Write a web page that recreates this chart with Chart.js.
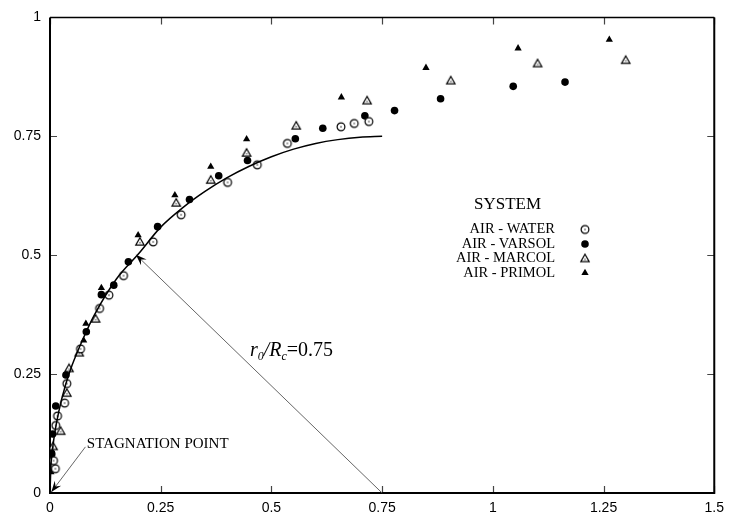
<!DOCTYPE html>
<html>
<head>
<meta charset="utf-8">
<script src="https://cdn.jsdelivr.net/npm/chart.js@4/dist/chart.umd.min.js"></script>
<style>
html,body{margin:0;padding:0;background:#fff;}
#wrap{position:relative;width:731px;height:520px;}
</style>
</head>
<body>
<div id="wrap"><canvas id="c" width="731" height="520"></canvas></div>
<script>
// ---- data ----
const xTickValues = [0, 0.25, 0.5, 0.75, 1, 1.25, 1.5];
const xTickLabels = ['0', '0.25', '0.5', '0.75', '1', '1.25', '1.5'];
const yTickValues = [0, 0.25, 0.5, 0.75, 1];
const yTickLabels = ['0', '0.25', '0.5', '0.75', '1'];

const seriesNames = ['AIR - WATER', 'AIR - VARSOL', 'AIR - MARCOL', 'AIR - PRIMOL'];

const waterX = [0.012, 0.008, 0.013, 0.017, 0.033, 0.038, 0.069, 0.112, 0.133, 0.166, 0.233, 0.296, 0.401, 0.468, 0.536, 0.657, 0.687, 0.720];
const waterY = [0.051, 0.068, 0.142, 0.162, 0.189, 0.230, 0.303, 0.388, 0.416, 0.457, 0.528, 0.585, 0.653, 0.690, 0.735, 0.770, 0.777, 0.781];

const varsolX = [0.004, 0.006, 0.013, 0.036, 0.082, 0.116, 0.144, 0.177, 0.243, 0.315, 0.381, 0.446, 0.554, 0.616, 0.711, 0.778, 0.882, 1.046, 1.163];
const varsolY = [0.082, 0.124, 0.183, 0.248, 0.339, 0.417, 0.437, 0.486, 0.560, 0.617, 0.667, 0.699, 0.745, 0.767, 0.793, 0.804, 0.829, 0.855, 0.864];

const marcolX = [0.007, 0.024, 0.038, 0.043, 0.066, 0.103, 0.203, 0.285, 0.363, 0.444, 0.556, 0.716, 0.905, 1.101, 1.300];
const marcolY = [0.098, 0.130, 0.210, 0.262, 0.295, 0.366, 0.528, 0.610, 0.658, 0.715, 0.772, 0.825, 0.867, 0.903, 0.910];

const primolX = [0.002, 0.004, 0.076, 0.081, 0.116, 0.199, 0.282, 0.363, 0.444, 0.658, 0.849, 1.057, 1.263];
const primolY = [0.044, 0.090, 0.321, 0.356, 0.431, 0.542, 0.626, 0.686, 0.744, 0.832, 0.894, 0.935, 0.953];

// theoretical curve r0/Rc = 0.75
const curveX = [0, 0.002, 0.005, 0.01, 0.02, 0.035, 0.05, 0.075, 0.1, 0.15, 0.2, 0.25, 0.3, 0.35, 0.4, 0.45, 0.5, 0.55, 0.6, 0.65, 0.7, 0.75];
const curveY = [0, 0.055, 0.086, 0.122, 0.172, 0.227, 0.269, 0.325, 0.374, 0.450, 0.503, 0.559, 0.600, 0.634, 0.663, 0.687, 0.707, 0.723, 0.735, 0.743, 0.748, 0.750];

// annotations (data units)
const radiusArrow = {from: [0.75, 0], to: [0.194, 0.501]};
const stagArrow = {from: [0.080, 0.097], to: [0.003, 0.002]};
const stagLabel = {text: 'STAGNATION POINT', at: [0.081, 0.102]};
const ratioLabel = {at: [0.4515, 0.288]};
const legendTitle = 'SYSTEM';

// ---- marker images ----
function makeMarker(kind) {
  const c = document.createElement('canvas');
  c.width = 12; c.height = 12;
  const g = c.getContext('2d');
  g.strokeStyle = '#000'; g.fillStyle = '#000'; g.lineWidth = 1.2;
  if (kind === 'ocircle') {
    g.fillStyle = '#fff';
    g.beginPath(); g.arc(6, 6, 3.9, 0, Math.PI * 2); g.fill(); g.stroke();
    g.fillStyle = '#000';
    g.fillRect(5.4, 5.4, 1.2, 1.2);
  } else if (kind === 'otri') {
    g.fillStyle = '#fff';
    g.beginPath(); g.moveTo(6, 1.8); g.lineTo(10.2, 9.2); g.lineTo(1.8, 9.2); g.closePath(); g.fill(); g.stroke();
    g.fillStyle = '#333';
    g.fillRect(5.4, 6.2, 1.2, 1.2);
  }
  return c;
}
const openCircle = makeMarker('ocircle');
const openTri = makeMarker('otri');

function pts(xs, ys) { return xs.map((x, i) => ({x: x, y: ys[i]})); }

const markerStyles = [
  {pointStyle: openCircle, radius: 5},
  {pointStyle: 'circle', radius: 3.8},
  {pointStyle: openTri, radius: 5},
  {pointStyle: 'triangle', radius: 4.2}
];

function scatterSet(name, xs, ys, m) {
  return {
    type: 'scatter', label: name, data: pts(xs, ys),
    pointStyle: m.pointStyle, pointRadius: m.radius, pointHoverRadius: m.radius,
    backgroundColor: '#000', borderColor: '#000', borderWidth: 0, showLine: false
  };
}

function drawArrow(ctx, x1, y1, x2, y2) {
  ctx.save();
  ctx.strokeStyle = '#555'; ctx.lineWidth = 0.9;
  ctx.beginPath(); ctx.moveTo(x1, y1); ctx.lineTo(x2, y2); ctx.stroke();
  const a = Math.atan2(y2 - y1, x2 - x1);
  const L = 11, W = 4, N = 7;
  const ca = Math.cos(a), sa = Math.sin(a);
  ctx.fillStyle = '#000';
  ctx.beginPath();
  ctx.moveTo(x2, y2);
  ctx.lineTo(x2 - L * ca + W * sa, y2 - L * sa - W * ca);
  ctx.lineTo(x2 - N * ca, y2 - N * sa);
  ctx.lineTo(x2 - L * ca - W * sa, y2 - L * sa + W * ca);
  ctx.closePath(); ctx.fill();
  ctx.restore();
}

const framePlugin = {
  id: 'frame',
  beforeDatasetsDraw(chart) {
    const {ctx, chartArea: a, scales} = chart;
    ctx.save();
    ctx.strokeStyle = '#444'; ctx.lineWidth = 1.2;
    xTickValues.forEach(v => {
      const px = Math.round(scales.x.getPixelForValue(v)) + 0.5;
      ctx.beginPath(); ctx.moveTo(px, a.bottom); ctx.lineTo(px, a.bottom - 7);
      ctx.moveTo(px, a.top); ctx.lineTo(px, a.top + 7); ctx.stroke();
    });
    yTickValues.forEach(v => {
      const py = Math.round(scales.y.getPixelForValue(v)) + 0.5;
      ctx.beginPath(); ctx.moveTo(a.left, py); ctx.lineTo(a.left + 7, py);
      ctx.moveTo(a.right, py); ctx.lineTo(a.right - 7, py); ctx.stroke();
    });
    ctx.strokeStyle = '#000';
    ctx.lineWidth = 2;
    ctx.beginPath();
    ctx.moveTo(a.left, a.top); ctx.lineTo(a.left, a.bottom); ctx.lineTo(a.right, a.bottom); ctx.lineTo(a.right, a.top);
    ctx.stroke();
    ctx.lineWidth = 1.5;
    ctx.beginPath(); ctx.moveTo(a.left, a.top); ctx.lineTo(a.right, a.top); ctx.stroke();
    ctx.restore();
  },
  afterDatasetsDraw(chart) {
    const {ctx, scales} = chart;
    const X = v => scales.x.getPixelForValue(v), Y = v => scales.y.getPixelForValue(v);
    drawArrow(ctx, X(radiusArrow.from[0]), Y(radiusArrow.from[1]), X(radiusArrow.to[0]), Y(radiusArrow.to[1]));
    drawArrow(ctx, X(stagArrow.from[0]), Y(stagArrow.from[1]), X(stagArrow.to[0]), Y(stagArrow.to[1]));
    ctx.save();
    ctx.fillStyle = '#000';
    ctx.font = '15px "Liberation Serif", "Times New Roman", serif';
    ctx.textBaseline = 'middle'; ctx.textAlign = 'left';
    ctx.fillText(stagLabel.text, X(stagLabel.at[0]) + 1, Y(stagLabel.at[1]));

    // r0/Rc=0.75
    let x = X(ratioLabel.at[0]); const b = Y(ratioLabel.at[1]);
    ctx.textBaseline = 'alphabetic';
    const big = 'italic 20px "Liberation Serif", serif', sub = 'italic 12px "Liberation Serif", serif';
    const parts = [
      [big, 'r', 0], [sub, '0', 4], [big, '/', 0], [big, 'R', 0], [sub, 'c', 4],
      ['20px "Liberation Serif", serif', '=0.75', 0]
    ];
    parts.forEach(p => { ctx.font = p[0]; ctx.fillText(p[1], x, b + p[2]); x += ctx.measureText(p[1]).width; });

    // legend
    ctx.textAlign = 'center'; ctx.textBaseline = 'middle';
    ctx.font = '17px "Liberation Serif", serif';
    ctx.fillText(legendTitle, 507.5, 205);
    ctx.font = '14.5px "Liberation Serif", serif';
    ctx.textAlign = 'right';
    const rows = [229.5, 244, 258.5, 273];
    seriesNames.forEach((n, i) => {
      ctx.fillText(n, 555, rows[i]);
      const m = markerStyles[i];
      Chart.helpers.drawPoint(ctx, {pointStyle: m.pointStyle, radius: m.radius, rotation: 0, borderWidth: 0}, 585, rows[i]);
    });
    ctx.restore();
  }
};

new Chart(document.getElementById('c'), {
  type: 'scatter',
  data: {
    datasets: [
      {
        type: 'line', label: 'curve', data: pts(curveX, curveY),
        borderColor: '#000', borderWidth: 1.5, pointRadius: 0, fill: false,
        cubicInterpolationMode: 'monotone', showLine: true
      },
      scatterSet(seriesNames[0], waterX, waterY, markerStyles[0]),
      scatterSet(seriesNames[1], varsolX, varsolY, markerStyles[1]),
      scatterSet(seriesNames[2], marcolX, marcolY, markerStyles[2]),
      scatterSet(seriesNames[3], primolX, primolY, markerStyles[3])
    ]
  },
  plugins: [framePlugin],
  options: {
    responsive: false, animation: false,
    layout: {padding: {top: 14, right: 11, left: 0, bottom: 0}},
    plugins: {legend: {display: false}, tooltip: {enabled: false}},
    scales: {
      x: {
        type: 'linear', min: 0, max: 1.5,
        afterBuildTicks: s => { s.ticks = xTickValues.map(v => ({value: v})); },
        afterFit: s => { s.height = 27; },
        grid: {display: false, drawTicks: false},
        border: {display: false},
        ticks: {
          padding: 7, color: '#000', maxRotation: 0, autoSkip: false,
          font: {family: '"Liberation Sans", Arial, sans-serif', size: 14},
          callback: (v) => { const i = xTickValues.indexOf(v); return i >= 0 ? xTickLabels[i] : ''; }
        }
      },
      y: {
        type: 'linear', min: 0, max: 1,
        afterBuildTicks: s => { s.ticks = yTickValues.map(v => ({value: v})); },
        afterFit: s => { s.width = 50; },
        grid: {display: false, drawTicks: false},
        border: {display: false},
        ticks: {
          padding: 9, color: '#000', autoSkip: false,
          font: {family: '"Liberation Sans", Arial, sans-serif', size: 14},
          callback: (v) => { const i = yTickValues.indexOf(v); return i >= 0 ? yTickLabels[i] : ''; }
        }
      }
    }
  }
});
</script>
</body>
</html>
